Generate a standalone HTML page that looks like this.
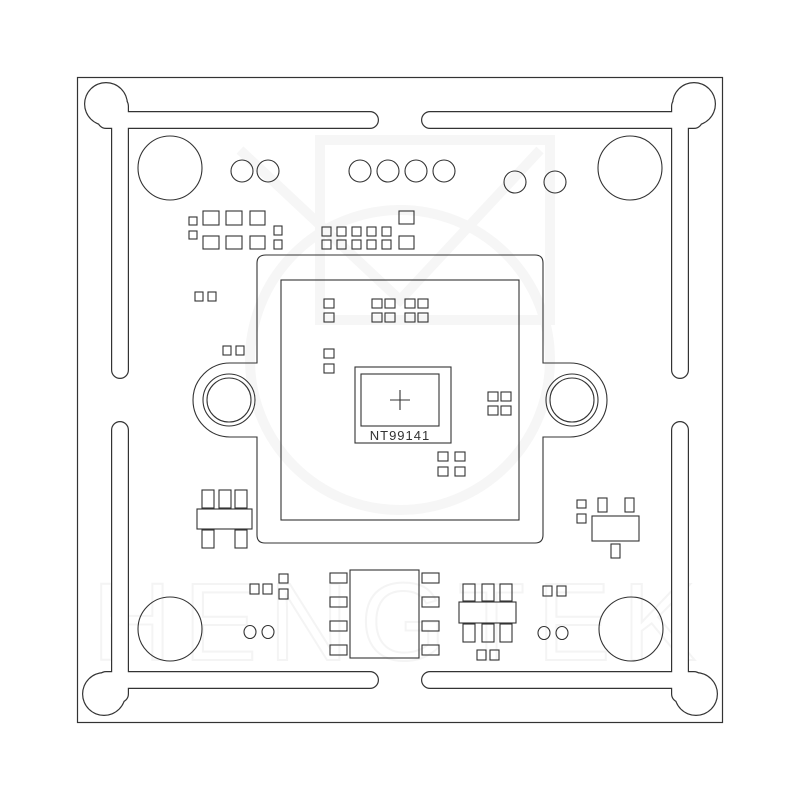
<!DOCTYPE html>
<html><head><meta charset="utf-8"><style>
html,body{margin:0;padding:0;background:#fff;}
svg{display:block;}
</style></head><body>
<svg width="800" height="800" viewBox="0 0 800 800" xmlns="http://www.w3.org/2000/svg">
<rect width="800" height="800" fill="#fff"/>
<!-- faint watermark -->
<g fill="none" stroke="#f6f6f6" stroke-width="10">
<circle cx="400" cy="360" r="150"/>
<rect x="320" y="140" width="230" height="180"/>
<path d="M240 150 L400 300 L540 150"/>
</g>
<text x="400" y="660" text-anchor="middle" font-family="Liberation Sans, sans-serif" font-size="110" fill="none" stroke="#f4f4f4" stroke-width="2" letter-spacing="12">HENGTEK</text>

<rect x="77.5" y="77.5" width="645" height="645" fill="none" stroke="#333" stroke-width="1.2"/>

<g stroke="#333" stroke-width="18" stroke-linecap="round" fill="#333">
<path d="M106 120 H370 M120 106 V370 M430 120 H694 M680 106 V370 M120 430 V694 M680 430 V694 M106 680 H370 M430 680 H694"/>
<circle cx="106" cy="104" r="22" stroke="none"/>
<circle cx="694" cy="104" r="22" stroke="none"/>
<circle cx="104" cy="694" r="22" stroke="none"/>
<circle cx="696" cy="694" r="22" stroke="none"/>
</g>
<g stroke="#fff" stroke-width="15.6" stroke-linecap="round" fill="#fff">
<path d="M106 120 H370 M120 106 V370 M430 120 H694 M680 106 V370 M120 430 V694 M680 430 V694 M106 680 H370 M430 680 H694"/>
<circle cx="106" cy="104" r="20.8" stroke="none"/>
<circle cx="694" cy="104" r="20.8" stroke="none"/>
<circle cx="104" cy="694" r="20.8" stroke="none"/>
<circle cx="696" cy="694" r="20.8" stroke="none"/>
</g>

<g fill="none" stroke="#333" stroke-width="1.1">
<circle cx="170" cy="168" r="32"/>
<circle cx="630" cy="168" r="32"/>
<ellipse cx="170" cy="629" rx="32" ry="32"/>
<ellipse cx="631" cy="629" rx="32" ry="32"/>
<circle cx="242" cy="171" r="11"/><circle cx="268" cy="171" r="11"/>
<circle cx="360" cy="171" r="11"/><circle cx="388" cy="171" r="11"/><circle cx="416" cy="171" r="11"/><circle cx="444" cy="171" r="11"/>
<circle cx="515" cy="182" r="11"/><circle cx="555" cy="182" r="11"/>
<ellipse cx="250" cy="632" rx="6" ry="6.5"/><ellipse cx="268" cy="632" rx="6" ry="6.5"/>
<ellipse cx="544" cy="633" rx="6" ry="6.5"/><ellipse cx="562" cy="633" rx="6" ry="6.5"/>

<path d="M266 255 H535 Q543 255 543 263 V363 H570 A37 37 0 0 1 570 437 H543 V535 Q543 543 535 543 H265 Q257 543 257 535 V437 H230 A37 37 0 0 1 230 363 H257 V263 Q257 255 266 255 Z"/>
<circle cx="229" cy="400" r="26"/><circle cx="229" cy="400" r="22"/>
<circle cx="572" cy="400" r="26"/><circle cx="572" cy="400" r="22"/>
<rect x="281" y="280" width="238" height="240"/>

<rect x="355" y="367" width="96" height="76"/>
<rect x="361" y="374" width="78" height="52"/>
<path d="M390 400 H410 M400 390 V410"/>

<rect x="203" y="211" width="16" height="14"/><rect x="226" y="211" width="16" height="14"/><rect x="250" y="211" width="15" height="14"/>
<rect x="203" y="236" width="16" height="13"/><rect x="226" y="236" width="16" height="13"/><rect x="250" y="236" width="15" height="13"/>
<rect x="189" y="217" width="8" height="8"/><rect x="189" y="231" width="8" height="8"/>
<rect x="274" y="226" width="8" height="9"/><rect x="274" y="240" width="8" height="9"/>
<rect x="322" y="227" width="9" height="9"/><rect x="337" y="227" width="9" height="9"/><rect x="352" y="227" width="9" height="9"/><rect x="367" y="227" width="9" height="9"/><rect x="382" y="227" width="9" height="9"/>
<rect x="322" y="240" width="9" height="9"/><rect x="337" y="240" width="9" height="9"/><rect x="352" y="240" width="9" height="9"/><rect x="367" y="240" width="9" height="9"/><rect x="382" y="240" width="9" height="9"/>
<rect x="399" y="211" width="15" height="13"/><rect x="399" y="236" width="15" height="13"/>
<rect x="195" y="292" width="8" height="9"/><rect x="208" y="292" width="8" height="9"/>
<rect x="223" y="346" width="8" height="9"/><rect x="236" y="346" width="8" height="9"/>
<rect x="324" y="299" width="10" height="9"/><rect x="324" y="313" width="10" height="9"/>
<rect x="324" y="349" width="10" height="9"/><rect x="324" y="364" width="10" height="9"/>
<rect x="372" y="299" width="10" height="9"/><rect x="385" y="299" width="10" height="9"/><rect x="405" y="299" width="10" height="9"/><rect x="418" y="299" width="10" height="9"/>
<rect x="372" y="313" width="10" height="9"/><rect x="385" y="313" width="10" height="9"/><rect x="405" y="313" width="10" height="9"/><rect x="418" y="313" width="10" height="9"/>
<rect x="488" y="392" width="10" height="9"/><rect x="501" y="392" width="10" height="9"/>
<rect x="488" y="406" width="10" height="9"/><rect x="501" y="406" width="10" height="9"/>
<rect x="438" y="452" width="10" height="9"/><rect x="455" y="452" width="10" height="9"/>
<rect x="438" y="467" width="10" height="9"/><rect x="455" y="467" width="10" height="9"/>

<rect x="197" y="509" width="55" height="20"/>
<rect x="202" y="490" width="12" height="18"/><rect x="219" y="490" width="12" height="18"/><rect x="235" y="490" width="12" height="18"/>
<rect x="202" y="530" width="12" height="18"/><rect x="235" y="530" width="12" height="18"/>
<rect x="592" y="516" width="47" height="25"/>
<rect x="598" y="498" width="9" height="14"/><rect x="625" y="498" width="9" height="14"/>
<rect x="611" y="544" width="9" height="14"/>
<rect x="577" y="500" width="9" height="8"/><rect x="577" y="514" width="9" height="9"/>
<rect x="350" y="570" width="69" height="88"/>
<rect x="330" y="573" width="17" height="10"/><rect x="330" y="597" width="17" height="10"/><rect x="330" y="621" width="17" height="10"/><rect x="330" y="645" width="17" height="10"/>
<rect x="422" y="573" width="17" height="10"/><rect x="422" y="597" width="17" height="10"/><rect x="422" y="621" width="17" height="10"/><rect x="422" y="645" width="17" height="10"/>
<rect x="459" y="602" width="57" height="21"/>
<rect x="463" y="584" width="12" height="17"/><rect x="482" y="584" width="12" height="17"/><rect x="500" y="584" width="12" height="17"/>
<rect x="463" y="624" width="12" height="18"/><rect x="482" y="624" width="12" height="18"/><rect x="500" y="624" width="12" height="18"/>
<rect x="543" y="586" width="9" height="10"/><rect x="557" y="586" width="9" height="10"/>
<rect x="477" y="650" width="9" height="10"/><rect x="490" y="650" width="9" height="10"/>
<rect x="250" y="584" width="9" height="10"/><rect x="263" y="584" width="9" height="10"/>
<rect x="279" y="574" width="9" height="9"/><rect x="279" y="589" width="9" height="10"/>
</g>
<text x="400" y="440" text-anchor="middle" font-family="Liberation Sans, sans-serif" font-size="13" fill="#333" letter-spacing="1">NT99141</text>
</svg>
</body></html>
